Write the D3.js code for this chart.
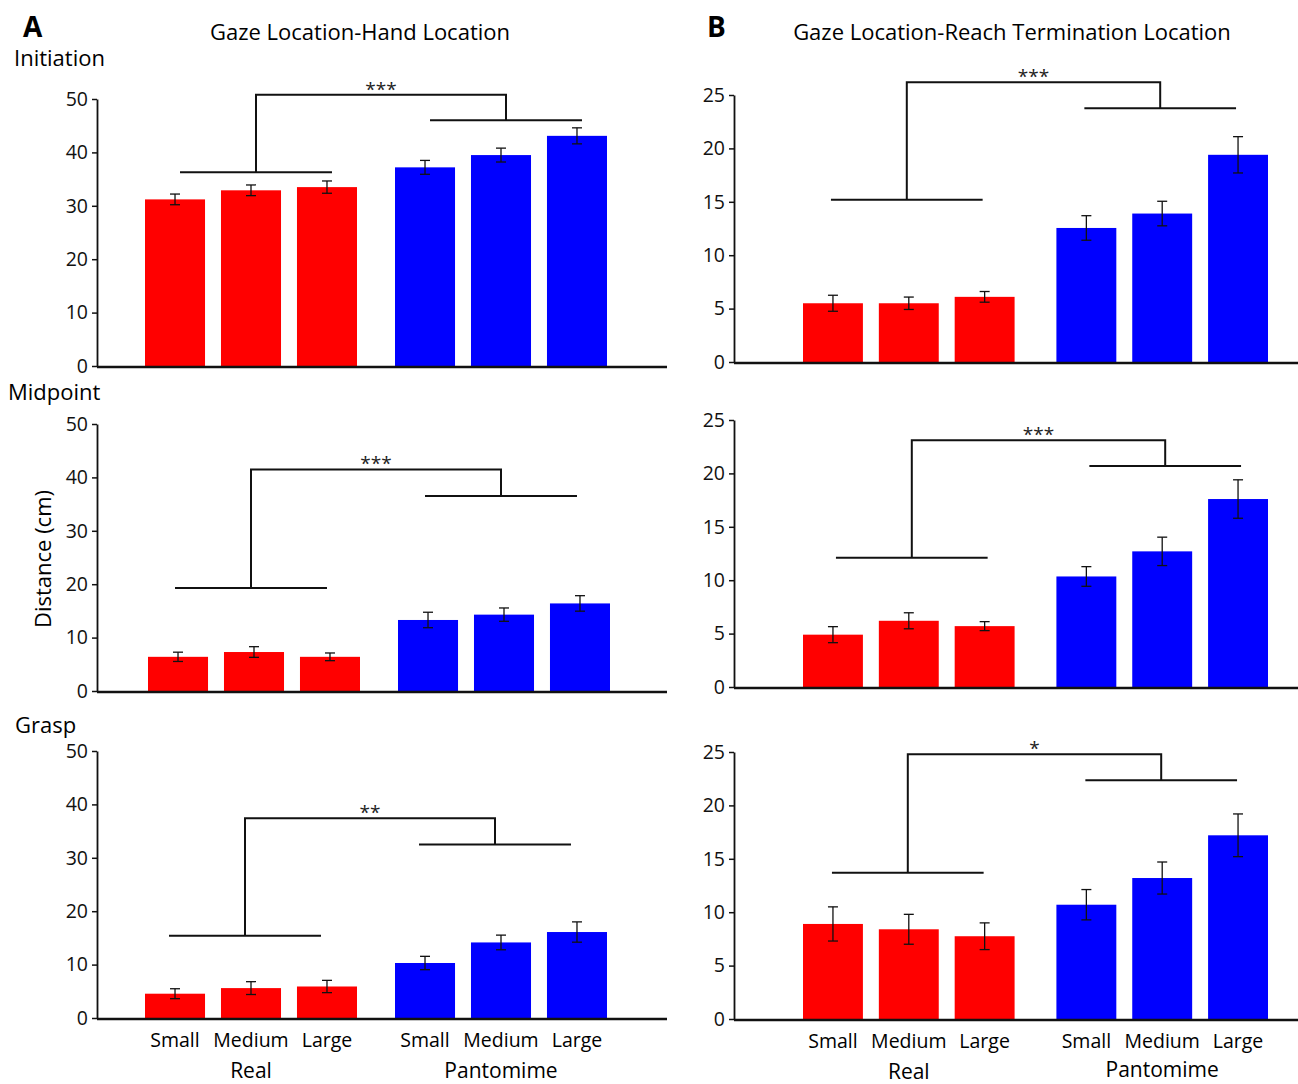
<!DOCTYPE html>
<html>
<head>
<meta charset="utf-8">
<script src="https://cdnjs.cloudflare.com/ajax/libs/d3/7.8.5/d3.min.js"></script>
<style>
  body { margin: 0; background: #fff; }
  svg { display: block; font-family: "Open Sans", sans-serif; }
</style>
</head>
<body>
<div id="chart"></div>
<script>
const sizes = ['Small', 'Medium', 'Large'];
const conditions = ['Real', 'Pantomime'];
const handTicks = [0, 10, 20, 30, 40, 50];
const reachTicks = [0, 5, 10, 15, 20, 25];
const rowNames = ['Initiation', 'Midpoint', 'Grasp'];
const colTitles = ['Gaze Location-Hand Location', 'Gaze Location-Reach Termination Location'];

// means and errors, order: Real S/M/L, Pantomime S/M/L
const initHandMean = [31.2, 32.9, 33.5, 37.2, 39.5, 43.1];
const initHandErr = [1.0, 1.0, 1.15, 1.3, 1.3, 1.5];
const midHandMean = [6.4, 7.3, 6.4, 13.3, 14.3, 16.4];
const midHandErr = [0.87, 1.0, 0.72, 1.45, 1.25, 1.45];
const graspHandMean = [4.55, 5.6, 5.9, 10.3, 14.15, 16.1];
const graspHandErr = [0.93, 1.2, 1.15, 1.25, 1.37, 1.9];

const initReachMean = [5.5, 5.5, 6.1, 12.55, 13.9, 19.4];
const initReachErr = [0.75, 0.58, 0.5, 1.15, 1.15, 1.7];
const midReachMean = [4.9, 6.2, 5.7, 10.35, 12.7, 17.6];
const midReachErr = [0.75, 0.75, 0.42, 0.92, 1.33, 1.8];
const graspReachMean = [8.9, 8.4, 7.75, 10.7, 13.2, 17.2];
const graspReachErr = [1.6, 1.4, 1.25, 1.42, 1.5, 2.0];

// significance brackets: [top, Real line, Pantomime line] in data units
const initHandBracket = [50.8, 36.3, 46.0];
const midHandBracket = [41.5, 19.3, 36.5];
const graspHandBracket = [37.4, 15.4, 32.5];
const initReachBracket = [26.2, 15.2, 23.75];
const midReachBracket = [23.1, 12.1, 20.7];
const graspReachBracket = [24.8, 13.7, 22.35];
const stars = [['***', '***', '**'], ['***', '***', '*']];

const W = 1298, H = 1084;

const cols = [
    { axisX: 97, right: 667, x0: 145, x1: 607, pad: 0.152, ticks: handTicks,
      rows: [{ y0: 366, yT: 99, shift: 5, dx: 0 }, { y0: 691, yT: 424, shift: -3, dx: 3 },
             { y0: 1018, yT: 751, shift: -6, dx: 0 }],
      data: [[initHandMean, initHandErr, initHandBracket],
             [midHandMean, midHandErr, midHandBracket],
             [graspHandMean, graspHandErr, graspHandBracket]] },
    { axisX: 734, right: 1298, x0: 803, x1: 1268, pad: 0.165, ticks: reachTicks,
      rows: [{ y0: 362, yT: 95, shift: -2, dx: 0 }, { y0: 687, yT: 420, shift: 3, dx: 0 },
             { y0: 1019, yT: 752, shift: -1, dx: 0 }],
      data: [[initReachMean, initReachErr, initReachBracket],
             [midReachMean, midReachErr, midReachBracket],
             [graspReachMean, graspReachErr, graspReachBracket]] }
];

const svg = d3.select('#chart').append('svg')
    .attr('width', W)
    .attr('height', H);

// panel letters and titles
svg.append('text').attr('x', 23).attr('y', 37)
    .style('font-size', '28px').style('font-weight', 'bold').text('A');
svg.append('text').attr('x', 707).attr('y', 37)
    .style('font-size', '28px').style('font-weight', 'bold').text('B');
svg.append('text').attr('x', 360).attr('y', 40).attr('text-anchor', 'middle')
    .style('font-size', '22px').text(colTitles[0]);
svg.append('text').attr('x', 1012).attr('y', 40).attr('text-anchor', 'middle')
    .style('font-size', '22px').text(colTitles[1]);

const rowLabelPos = [[14, 66], [8, 400], [15, 733]];
rowNames.forEach((name, i) => {
    svg.append('text').attr('x', rowLabelPos[i][0]).attr('y', rowLabelPos[i][1])
        .style('font-size', '22px').text(name);
});

svg.append('text')
    .attr('transform', 'translate(51,559) rotate(-90)')
    .attr('text-anchor', 'middle')
    .style('font-size', '22px')
    .text('Distance (cm)');

cols.forEach((col, ci) => {
    col.rows.forEach((row, ri) => {
        const [mean, err, bracket] = col.data[ri];

        const groupScale = d3.scaleBand()
            .domain(conditions)
            .range([col.x0 + row.dx, col.x1 + row.dx])
            .paddingInner(col.pad);
        const sizeScale = d3.scaleBand()
            .domain(sizes)
            .range([0, groupScale.bandwidth()])
            .paddingInner(0.21);

        const barX = i => groupScale(conditions[Math.floor(i / 3)]) + sizeScale(sizes[i % 3]);
        const barC = i => barX(i) + sizeScale.bandwidth() / 2;

        const y = d3.scaleLinear()
            .domain([0, d3.max(col.ticks)])
            .range([row.y0, row.yT]);

        const data = mean.map((m, i) => ({ i, m, e: err[i] }));
        const g = svg.append('g');

        g.selectAll('.bar')
            .data(data)
            .enter()
            .append('rect')
            .attr('class', 'bar')
            .attr('x', d => barX(d.i))
            .attr('y', d => y(d.m))
            .attr('width', sizeScale.bandwidth())
            .attr('height', d => y(0) - y(d.m))
            .attr('fill', d => d.i < 3 ? '#ff0000' : '#0000ff');

        // error bars
        const eb = g.selectAll('.err')
            .data(data)
            .enter()
            .append('g')
            .attr('class', 'err')
            .attr('stroke', '#111')
            .attr('stroke-width', 1.3);
        eb.append('line')
            .attr('x1', d => barC(d.i)).attr('x2', d => barC(d.i))
            .attr('y1', d => y(d.m - d.e)).attr('y2', d => y(d.m + d.e));
        eb.append('line')
            .attr('x1', d => barC(d.i) - 5).attr('x2', d => barC(d.i) + 5)
            .attr('y1', d => y(d.m + d.e)).attr('y2', d => y(d.m + d.e));
        eb.append('line')
            .attr('x1', d => barC(d.i) - 5).attr('x2', d => barC(d.i) + 5)
            .attr('y1', d => y(d.m - d.e)).attr('y2', d => y(d.m - d.e));

        // y axis
        const ax = g.append('g')
            .attr('transform', `translate(${col.axisX},0)`)
            .call(d3.axisLeft(y).tickValues(col.ticks).tickSize(5).tickSizeOuter(0));
        ax.select('.domain').attr('stroke', '#111').attr('stroke-width', 1.8);
        ax.selectAll('.tick line').attr('stroke', '#111').attr('stroke-width', 1.5);
        ax.selectAll('.tick text')
            .attr('x', -9)
            .attr('fill', '#111')
            .style('font-size', '19.5px')
            .style('font-family', '"Open Sans", sans-serif');

        // x axis baseline
        g.append('line')
            .attr('x1', col.axisX).attr('x2', col.right)
            .attr('y1', y(0) + 1).attr('y2', y(0) + 1)
            .attr('stroke', '#111').attr('stroke-width', 2.5);

        // bracket
        const s = row.shift;
        const lx = barC(1) + s, rx = barC(4) + s;
        const br = g.append('g').attr('stroke', '#111').attr('stroke-width', 2).attr('fill', 'none');
        br.append('line').attr('x1', barC(0) + s).attr('x2', barC(2) + s)
            .attr('y1', y(bracket[1])).attr('y2', y(bracket[1]));
        br.append('line').attr('x1', barC(3) + s).attr('x2', barC(5) + s)
            .attr('y1', y(bracket[2])).attr('y2', y(bracket[2]));
        br.append('path')
            .attr('d', `M${lx},${y(bracket[1])}V${y(bracket[0])}H${rx}V${y(bracket[2])}`);
        g.append('text')
            .attr('x', (lx + rx) / 2)
            .attr('y', y(bracket[0]) + 1)
            .attr('text-anchor', 'middle')
            .attr('fill', '#222')
            .style('font-size', '19px')
            .text(stars[ci][ri]);

        // category labels on the bottom row
        if (ri === 2) {
            g.selectAll('.cat')
                .data(data)
                .enter()
                .append('text')
                .attr('x', d => barC(d.i))
                .attr('y', row.y0 + 29)
                .attr('text-anchor', 'middle')
                .style('font-size', '19.5px')
                .text(d => sizes[d.i % 3]);
            g.selectAll('.cond')
                .data(conditions)
                .enter()
                .append('text')
                .attr('x', d => barC(conditions.indexOf(d) * 3 + 1))
                .attr('y', (d, k) => row.y0 + 60 - (ci === 1 && k === 1 ? 2 : 0))
                .attr('text-anchor', 'middle')
                .style('font-size', '21px')
                .text(d => d);
        }
    });
});
</script>
</body>
</html>
